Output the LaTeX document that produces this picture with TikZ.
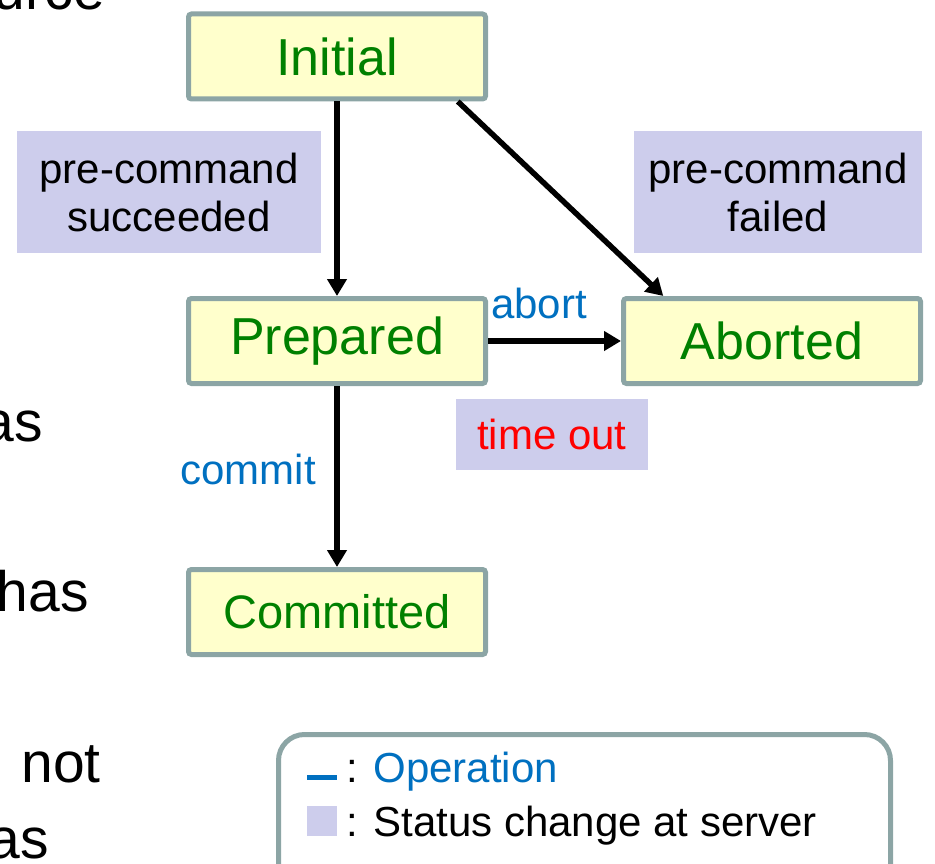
\documentclass[tikz,border=0pt]{standalone}
\usepackage{fontspec}
\setmainfont{Liberation Sans}
\usetikzlibrary{arrows.meta,calc}
\definecolor{boxline}{HTML}{8CA5A5}
\definecolor{boxfill}{HTML}{FFFFCC}
\definecolor{lav}{HTML}{CDCDEC}
\definecolor{stgreen}{HTML}{008000}
\definecolor{opblue}{HTML}{0070C0}
\begin{document}
\begin{tikzpicture}[x=1pt,y=-1pt,
  state/.style={draw=boxline,line width=5pt,fill=boxfill,rounded corners=3pt,
    minimum width=297pt,minimum height=85pt,inner sep=0pt,text=stgreen,
    font=\fontsize{52}{60}\selectfont},
  statusbox/.style={fill=lav,inner sep=0pt,align=center,
    font=\fontsize{42}{48}\selectfont},
  oplabel/.style={text=opblue,inner sep=0pt,font=\fontsize{42}{48}\selectfont},
  bodytext/.style={inner sep=0pt,font=\fontsize{57}{64}\selectfont},
  conn/.style={line width=5.5pt,-{Triangle[length=17pt,width=19pt]}}
]
\useasboundingbox (0,0) rectangle (935,864);
\clip (0,0) rectangle (935,864);

% slide body fragments
\node[bodytext,anchor=base east] (f1) at (105,10) {urce};
\node[bodytext,anchor=base east] (f2) at (43,441) {as};
\node[bodytext,anchor=base east] (f3) at (89,611) {has};
\node[bodytext,anchor=base east] (f4) at (101,782) {not};
\node[bodytext,anchor=base east] (f5) at (49,858) {as};

% status-change boxes
\node[statusbox,minimum width=304pt,minimum height=122pt] (succ) at (169,192) {pre-command\\succeeded};
\node[statusbox,minimum width=288pt,minimum height=122pt] (fail) at (778,192) {pre-command\\failed};
\node[statusbox,minimum width=192pt,minimum height=71pt,text=red] (tout) at (552,434.5) {time out};

% states
\node[state] (ini) at (337,56.5) {Initial};
\node[state] (prep) at (337,341) {Prepared};
\node[state] (abt) at (772,341) {Aborted};
\node[state,font=\fontsize{47}{56}\selectfont] (com) at (337,612) {Committed};

% connectors
\draw[conn] (ini.south) -- (prep.north);
\draw[conn] ($(ini.south west)!0.9!(ini.south east)$) -- ($(abt.north west)!0.14!(abt.north east)$);
\draw[conn] (prep.east) -- (abt.west);
\draw[conn] (prep.south) -- (com.north);

% operation labels
\node[oplabel,anchor=base west] (lab) at (491,318) {abort};
\node[oplabel,anchor=base east] (lcm) at (316,484) {commit};

% legend
\draw[draw=boxline,line width=5pt,fill=white,rounded corners=26pt] (278.5,734.5) rectangle (890.5,900);
\coordinate (d1) at (307,777);
\coordinate (d2) at (337,777);
\draw[opblue,line width=5pt] (d1) -- (d2);
\fill[lav] (307,806) rectangle (337,836);
\node[inner sep=0pt,anchor=base west,font=\fontsize{42}{48}\selectfont] (lg1) at (346,782) {: \textcolor{opblue}{Operation}};
\node[inner sep=0pt,anchor=base west,font=\fontsize{42}{48}\selectfont] (lg2) at (346,836) {: Status change at server};
\end{tikzpicture}
\end{document}
